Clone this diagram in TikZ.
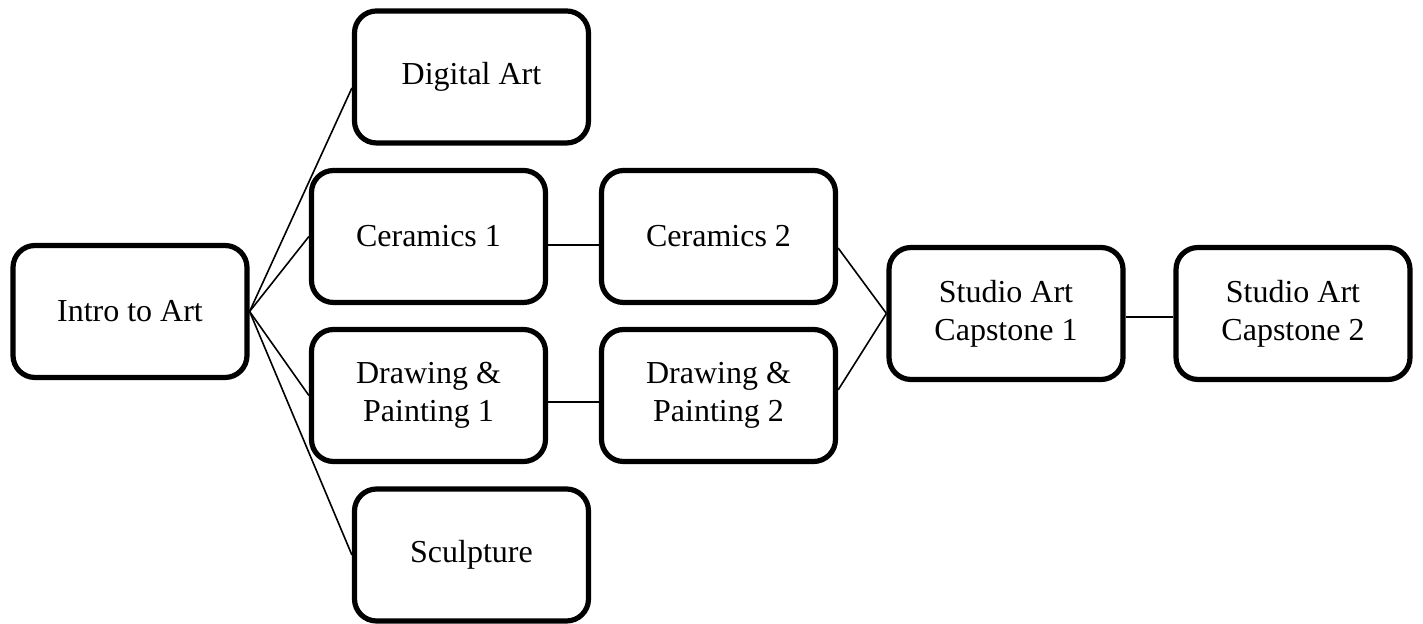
\documentclass[tikz,border=0pt]{standalone}
\usepackage{fontspec}
\setmainfont{Liberation Serif}
\begin{document}
\begin{tikzpicture}[x=0.5pt,y=0.5pt,
  course/.style={draw=black, line width=2.6pt, rounded corners=11pt, fill=white,
    minimum width=117pt, minimum height=66pt, align=center, inner sep=2pt,
    font=\fontsize{16}{19}\selectfont},
  link/.style={draw=black, line width=0.8pt}]
\useasboundingbox (0,0) rectangle (1423,624);
\node[course] (intro) at (130,312.5) {Intro to Art};
\node[course] (dig) at (471.5,547) {Digital Art};
\node[course] (c1) at (428.5,387.5) {Ceramics 1};
\node[course] (dp1) at (428.5,228.5) {Drawing \&\\Painting 1};
\node[course] (sc) at (471.5,69) {Sculpture};
\node[course] (c2) at (718.5,387.5) {Ceramics 2};
\node[course] (dp2) at (718.5,228.5) {Drawing \&\\Painting 2};
\node[course] (sa1) at (1006,310.5) {Studio Art\\Capstone 1};
\node[course] (sa2) at (1293,310.5) {Studio Art\\Capstone 2};
\draw[link] (intro.east) -- ([yshift=-5.5pt]dig.west);
\draw[link] (intro.east) -- (c1.west);
\draw[link] (intro.east) -- (dp1.west);
\draw[link] (intro.east) -- (sc.west);
\draw[link] ([yshift=-4.25pt]c1.east) -- ([yshift=-4.25pt]c2.west);
\draw[link] ([yshift=-3.25pt]dp1.east) -- ([yshift=-3.25pt]dp2.west);
\draw[link] ([yshift=-5.75pt]c2.east) -- (sa1.west);
\draw[link] ([yshift=2.75pt]dp2.east) -- (sa1.west);
\draw[link] ([yshift=-1.75pt]sa1.east) -- ([yshift=-1.75pt]sa2.west);
\end{tikzpicture}
\end{document}
